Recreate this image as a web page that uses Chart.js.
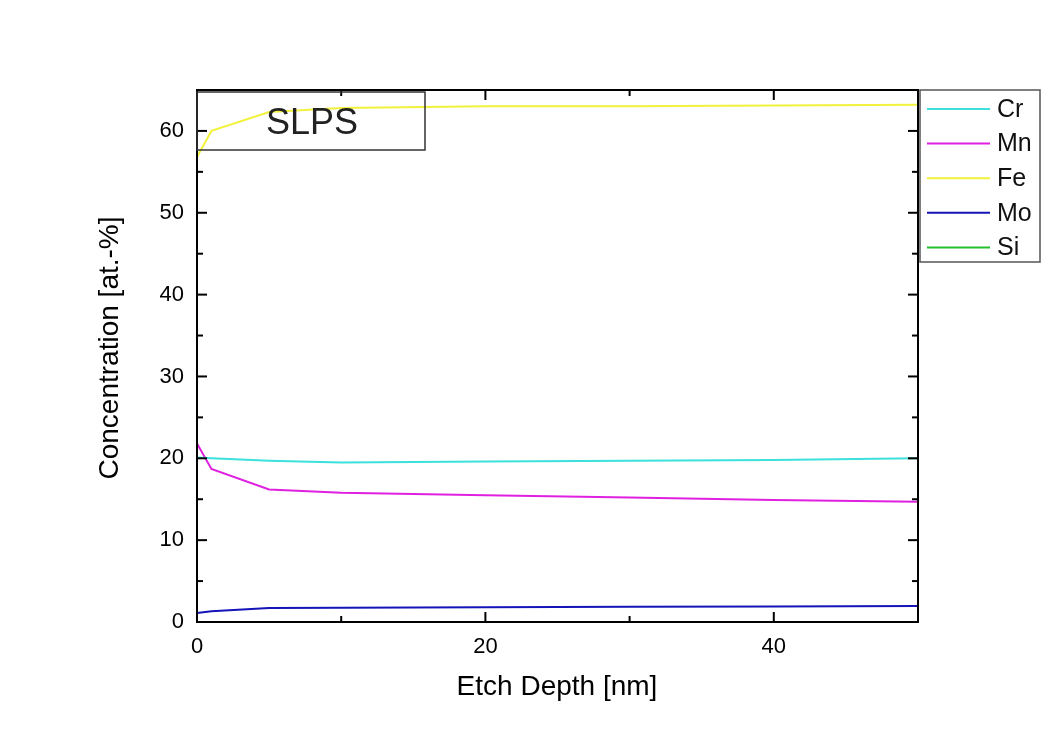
<!DOCTYPE html>
<html>
<head>
<meta charset="utf-8">
<script src="https://cdn.jsdelivr.net/npm/chart.js@4.4.1/dist/chart.umd.min.js"></script>
<style>
  html, body { margin: 0; padding: 0; background: #fff; }
  #wrap { width: 1054px; height: 738px; }
</style>
</head>
<body>
<div id="wrap"><canvas id="c" width="1054" height="738"></canvas></div>
<script>
// Etch depth profile (nm) and element concentrations (at.-%)
const depth = [0, 1, 5, 10, 20, 30, 40, 50];
const cr = [20.1, 20.0, 19.7, 19.5, 19.6, 19.7, 19.8, 20.0];
const mn = [21.8, 18.7, 16.2, 15.8, 15.5, 15.2, 14.9, 14.7];
const fe = [56.8, 60.0, 62.3, 62.8, 63.0, 63.0, 63.1, 63.2];
const mo = [1.1, 1.3, 1.7, 1.75, 1.8, 1.85, 1.9, 1.95];
const si = [0, 0, 0, 0, 0, 0, 0, 0];

const xMajor = [0, 20, 40];
const xMinor = [10, 30, 50];
const yMajor = [0, 10, 20, 30, 40, 50, 60];
const yMinor = [5, 15, 25, 35, 45, 55];

const seriesNames = ['Cr', 'Mn', 'Fe', 'Mo', 'Si'];
const seriesData = [cr, mn, fe, mo, si];
const seriesColors = ['#3ce0dc', '#e020e0', '#f2f23c', '#1414b8', '#22c02a'];

const FONT = '"Liberation Sans", Arial, sans-serif';

const pts = arr => depth.map((d, i) => ({ x: d, y: arr[i] }));

// Frame, inward ticks, tick labels, axis titles, sample box and legend
const decor = {
  id: 'decor',
  afterDatasetsDraw(chart) {
    const { ctx, chartArea: a, scales: { x, y } } = chart;
    ctx.save();
    ctx.strokeStyle = '#000';
    ctx.fillStyle = '#000';
    ctx.lineWidth = 2;
    ctx.strokeRect(a.left, a.top, a.right - a.left, a.bottom - a.top);

    const tick = (x1, y1, x2, y2) => { ctx.beginPath(); ctx.moveTo(x1, y1); ctx.lineTo(x2, y2); ctx.stroke(); };
    xMajor.forEach(v => { const px = x.getPixelForValue(v); tick(px, a.bottom, px, a.bottom - 10); tick(px, a.top, px, a.top + 10); });
    xMinor.forEach(v => { const px = x.getPixelForValue(v); tick(px, a.bottom, px, a.bottom - 6); tick(px, a.top, px, a.top + 6); });
    yMajor.forEach(v => { const py = y.getPixelForValue(v); tick(a.left, py, a.left + 10, py); tick(a.right, py, a.right - 10, py); });
    yMinor.forEach(v => { const py = y.getPixelForValue(v); tick(a.left, py, a.left + 6, py); tick(a.right, py, a.right - 6, py); });

    ctx.font = '22px ' + FONT;
    ctx.textAlign = 'center';
    ctx.textBaseline = 'alphabetic';
    xMajor.forEach(v => ctx.fillText(String(v), x.getPixelForValue(v), a.bottom + 31));
    ctx.textAlign = 'right';
    ctx.textBaseline = 'middle';
    yMajor.forEach(v => ctx.fillText(String(v), a.left - 13, y.getPixelForValue(v)));

    ctx.font = '28px ' + FONT;
    ctx.textAlign = 'center';
    ctx.textBaseline = 'alphabetic';
    ctx.fillText('Etch Depth [nm]', 557, a.bottom + 73);
    ctx.save();
    ctx.translate(118, 348);
    ctx.rotate(-Math.PI / 2);
    ctx.fillText('Concentration [at.-%]', 0, 0);
    ctx.restore();

    // sample label box
    ctx.lineWidth = 1.5;
    ctx.strokeStyle = '#333';
    ctx.strokeRect(a.left, a.top + 2, 228, 58);
    ctx.font = '36px ' + FONT;
    ctx.fillStyle = '#222';
    ctx.textBaseline = 'middle';
    ctx.fillText('SLPS', a.left + 115, a.top + 34);

    // legend
    const lx = a.right + 2, ly = a.top, lw = 120, lh = 172;
    ctx.fillStyle = '#fff';
    ctx.fillRect(lx, ly, lw, lh);
    ctx.strokeStyle = '#555';
    ctx.lineWidth = 1.5;
    ctx.strokeRect(lx, ly, lw, lh);
    ctx.font = '25px ' + FONT;
    ctx.textAlign = 'left';
    seriesNames.forEach((n, i) => {
      const ry = ly + 19 + i * 34.6;
      ctx.strokeStyle = seriesColors[i];
      ctx.lineWidth = 2;
      ctx.beginPath(); ctx.moveTo(lx + 7, ry); ctx.lineTo(lx + 70, ry); ctx.stroke();
      ctx.fillStyle = '#111';
      ctx.fillText(n, lx + 77, ry + 1);
    });
    ctx.restore();
  }
};

const bg = {
  id: 'bg',
  beforeDraw(chart) {
    const { ctx } = chart;
    ctx.save();
    ctx.fillStyle = '#fff';
    ctx.fillRect(0, 0, chart.width, chart.height);
    ctx.restore();
  }
};

new Chart(document.getElementById('c'), {
  type: 'line',
  data: {
    datasets: seriesNames.map((n, i) => ({
      label: n,
      data: pts(seriesData[i]),
      borderColor: seriesColors[i],
      backgroundColor: seriesColors[i],
      borderWidth: 2,
      pointRadius: 0,
      tension: 0,
      fill: false
    }))
  },
  options: {
    responsive: false,
    animation: false,
    devicePixelRatio: 1,
    layout: { padding: { left: 197, right: 136, top: 90, bottom: 116 } },
    plugins: { legend: { display: false }, tooltip: { enabled: false } },
    scales: {
      x: { type: 'linear', min: 0, max: 50, display: false },
      y: { type: 'linear', min: 0, max: 65, display: false }
    }
  },
  plugins: [bg, decor]
});
</script>
</body>
</html>
